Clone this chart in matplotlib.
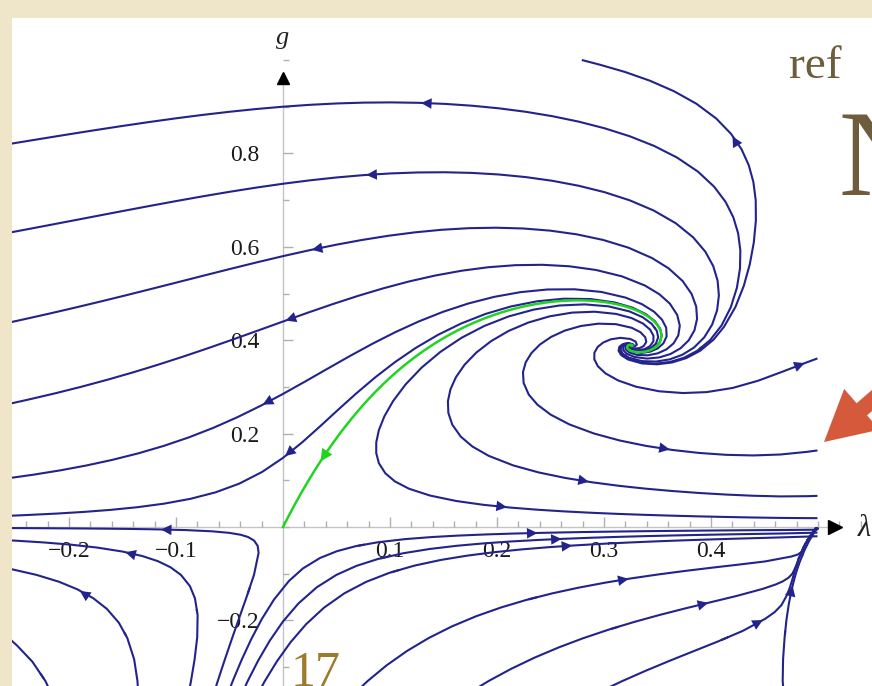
import numpy as np
import matplotlib
matplotlib.use("Agg")
import matplotlib.pyplot as plt
from matplotlib.patches import Polygon, FancyArrowPatch
from matplotlib.ticker import FixedLocator, FixedFormatter, MultipleLocator

# ---- model of the RG flow (Einstein-Hilbert truncation, fitted constants) ----
FP_LAMBDA = 0.326      # non-Gaussian fixed point
FP_G = 0.388
A0 = -16.97            # constant in anomalous-dimension function B(lambda)
S0 = 0.803             # weight of the lambda-dependent part of B(lambda)
K0 = 0.778             # saturation of the anomalous dimension
C0 = 0.88              # slope of beta_lambda in g at the Gaussian FP
D0 = 2.35              # coefficient of the log term

lam_domain = (-0.26, 0.4995)
g_domain = (-0.42, 1.0)

# streamline seeds
seed_g_on_g_axis = [0.90, 0.735, 0.58, 0.44, 0.285, 0.148]      # lines crossing lambda = 0
seed_g_right_edge = [0.353, 0.161, 0.066, 0.019]                # lines ending at lambda = 0.49
seed_lambda_top = [0.296]                                        # lines leaving at g = 0.99
seed_lambda_bottom = [-0.222, -0.136, -0.086, -0.061, -0.047, -0.033, -0.017,
                      0.079, 0.192, 0.317, 0.467]                # lines crossing g = -0.33

x_ticks = [-0.2, -0.1, 0.1, 0.2, 0.3, 0.4]
x_labels = ["\u22120.2", "\u22120.1", "0.1", "0.2", "0.3", "0.4"]
y_ticks = [-0.2, 0.2, 0.4, 0.6, 0.8]
y_labels = ["\u22120.2", "0.2", "0.4", "0.6", "0.8"]

PARCH = "#efe5c8"
BLUE = "#23238c"
GREEN = "#22d422"
BROWN = "#6e5d3c"
GOLD = "#9c7c2a"
RED = "#d45a3b"


def beta(l, g):
    w = 1.0 - 2.0 * l
    L = -np.log(w)
    B = (A0 + S0 * (5.0 * L - 18.0 / w)) / (3.0 * np.pi)
    eta = g * B / (1.0 + K0 * g * g)
    bg = (2.0 + eta) * g
    bl = -(2.0 - eta) * l + g * (C0 + D0 * L)
    return bl, bg


W, H = 872, 686
fig = plt.figure(figsize=(W / 100, H / 100), dpi=100)
fig.patch.set_facecolor(PARCH)
ax = fig.add_axes([12 / W, 0, (W - 12) / W, (H - 18) / H])
ax.set_facecolor("white")
ax.set_xlim(-0.25327, 0.55047)
ax.set_ylim(-0.34047, 1.08994)

lam = np.linspace(lam_domain[0], lam_domain[1], 400)
gg = np.linspace(g_domain[0], g_domain[1], 400)
LL, GG = np.meshgrid(lam, gg)
bl, bg = beta(LL, GG)
U, V = -bl, -bg

seeds = ([[0.0, g] for g in seed_g_on_g_axis]
         + [[0.49, g] for g in seed_g_right_edge]
         + [[l, 0.99] for l in seed_lambda_top]
         + [[l, -0.33] for l in seed_lambda_bottom])
sp = ax.streamplot(lam, gg, U, V, start_points=np.array(seeds), color=BLUE, linewidth=1.5,
                   arrowstyle="-", arrowsize=0.01, zorder=3, broken_streamlines=False,
                   maxlength=5.0)

# arrows on the visible part of each streamline (pointing in the IR direction)
fp_pix = ax.transData.transform((FP_LAMBDA, FP_G))
bb = ax.bbox
for seg in sp.lines.get_segments():
    if len(seg) < 3:
        continue
    pix = ax.transData.transform(seg)
    ok = ((pix[:, 0] > bb.x0 + 5) & (pix[:, 0] < bb.x1 - 5) & (pix[:, 1] > bb.y0 + 5)
          & (pix[:, 1] < bb.y1 - 5) & (np.hypot(*(pix - fp_pix).T) > 80))
    best, cur, start, best_start = 0, 0, 0, 0
    for i, v in enumerate(ok):
        if v:
            if cur == 0:
                start = i
            cur += 1
            if cur > best:
                best, best_start = cur, start
        else:
            cur = 0
    if best < 5:
        continue
    pts = pix[best_start:best_start + best]
    s = np.concatenate([[0], np.cumsum(np.hypot(*np.diff(pts, axis=0).T))])
    if s[-1] < 60:
        continue
    k = int(np.searchsorted(s, s[-1] * 0.5))
    k = min(max(k, 1), len(pts) - 2)
    a = seg[best_start + k - 1]
    b = seg[best_start + k + 1]
    u_, v_ = beta(seg[best_start + k][0], seg[best_start + k][1])
    if (b[0] - a[0]) * (-u_) + (b[1] - a[1]) * (-v_) < 0:
        a, b = b, a
    ax.add_patch(FancyArrowPatch(a, b, arrowstyle="-|>", mutation_scale=19, color=BLUE,
                                 lw=0, zorder=4))

# separatrix from GFP to NGFP (integrated in the UV direction)
eps = 1e-4
p = np.array([eps * C0 / 4.0, eps])
path = [p.copy()]
dt = 0.005


def f(q):
    a_, b_ = beta(q[0], q[1])
    return np.array([a_, b_])


for _ in range(5000):
    k1 = f(p); k2 = f(p + 0.5 * dt * k1); k3 = f(p + 0.5 * dt * k2); k4 = f(p + dt * k3)
    p = p + dt / 6.0 * (k1 + 2 * k2 + 2 * k3 + k4)
    path.append(p.copy())
path = np.array(path)
ax.plot(path[:, 0], path[:, 1], color=GREEN, lw=1.8, zorder=5)
i1 = np.argmax(path[:, 1] > 0.17)
i0 = np.argmax(path[:, 1] > 0.135)
ax.add_patch(FancyArrowPatch(path[i1], path[i0], arrowstyle="-|>", mutation_scale=22,
                             color=GREEN, lw=0, zorder=6))

# axes through the origin
for s_ in ["top", "right"]:
    ax.spines[s_].set_visible(False)
ax.spines["left"].set_position(("data", 0))
ax.spines["bottom"].set_position(("data", 0))
for s_ in ["left", "bottom"]:
    ax.spines[s_].set_color("#c4c4c4")
    ax.spines[s_].set_linewidth(1.0)
    ax.spines[s_].set_zorder(1)
ax.spines["bottom"].set_bounds(-0.2533, 0.508)
ax.spines["left"].set_bounds(-0.3405, 0.955)
ax.xaxis.set_major_locator(FixedLocator(x_ticks))
ax.xaxis.set_major_formatter(FixedFormatter(x_labels))
ax.xaxis.set_minor_locator(MultipleLocator(0.02))
ax.yaxis.set_major_locator(FixedLocator(y_ticks))
ax.yaxis.set_major_formatter(FixedFormatter(y_labels))
ax.yaxis.set_minor_locator(MultipleLocator(0.1))
ax.tick_params(which="both", direction="in", color="#b0b0b0", width=1.0)
ax.tick_params(which="major", length=7)
ax.tick_params(which="minor", length=4)
ax.tick_params(axis="x", pad=10)
ax.tick_params(axis="y", pad=17)
for t in ax.get_xticklabels() + ax.get_yticklabels():
    t.set_fontfamily("Liberation Serif")
    t.set_fontsize(17)
    t.set_color("#1a1a1a")

ax.plot([0.516], [0], ">", color="black", markersize=10, zorder=5, clip_on=False)
ax.plot([0], [0.962], "^", color="black", markersize=9, zorder=5, clip_on=False)


def fx(px):
    return px / W


def fy(py):
    return 1 - py / H


fig.text(fx(283), fy(38), "g", fontsize=19, fontstyle="italic", family="Liberation Serif",
         ha="center", va="center", color="#222222")
fig.text(fx(858), fy(528), "\u03bb", fontsize=22, fontstyle="italic", family="Liberation Serif",
         ha="left", va="center", color="#222222")

fig.text(fx(789), fy(78), "ref", fontsize=34, family="Liberation Serif", color=BROWN,
         ha="left", va="baseline")
fig.text(fx(838), fy(195), "N", fontsize=88, family="Liberation Serif", color=BROWN,
         ha="left", va="baseline")
fig.text(fx(291), fy(686), "17", fontsize=36, family="Liberation Serif", color=GOLD,
         ha="left", va="baseline")

# red pointer arrow
tip = np.array([824.0, 442.0])
tail = np.array([905.0, 372.0])
u = (tip - tail) / np.linalg.norm(tip - tail)
n = np.array([-u[1], u[0]])
hl, hw, sw = 50.0, 27.0, 8.0
base = tip - hl * u
verts = [tail + sw * n, base + sw * n, base + hw * n, tip, base - hw * n, base - sw * n, tail - sw * n]
verts = [(fx(v[0]), fy(v[1])) for v in verts]
fig.patches.append(Polygon(verts, closed=True, transform=fig.transFigure, facecolor=RED,
                           edgecolor="none", zorder=10))

fig.savefig("out.png", dpi=100, facecolor=fig.get_facecolor())
